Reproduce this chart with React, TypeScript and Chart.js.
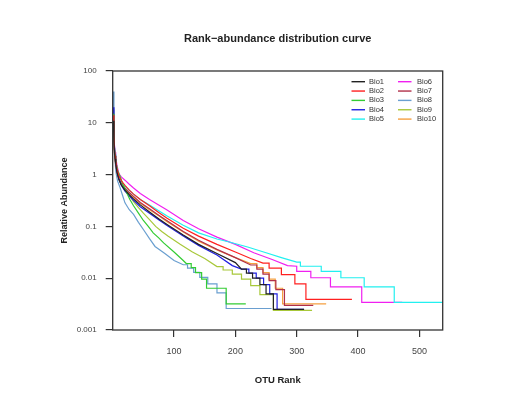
import React, { useEffect, useRef } from "react";
import { Chart, registerables } from "chart.js";

Chart.register(...registerables);

const chartTitle = "Rank\u2212abundance distribution curve";
const xAxisTitle = "OTU Rank";
const yAxisTitle = "Relative Abundance";

const seriesNames = ["Bio1", "Bio2", "Bio3", "Bio4", "Bio5", "Bio6", "Bio7", "Bio8", "Bio9", "Bio10"];
const seriesColors = ["#222222", "#FF2020", "#33CC33", "#2020E0", "#22F0F0", "#F020F0", "#B0304A", "#6A9FD0", "#A8C83A", "#F5A040"];

const xTickValues = [100, 200, 300, 400, 500];
const yTickValues = [0.001, 0.01, 0.1, 1, 10, 100];
const yTickLabels = ["0.001", "0.01", "0.1", "1", "10", "100"];

// Bio1
const bio1Rank = [1, 2, 3, 4, 5, 7, 10, 14, 20, 27, 34, 45, 60, 75, 88, 115, 140, 170, 200, 210, 218, 218, 228, 228, 240, 240, 250, 250, 262, 262, 312];
const bio1Abundance = [11, 4.5, 2.6, 2.0, 1.6, 1.1, 0.8, 0.63, 0.5, 0.41, 0.34, 0.26, 0.19, 0.14, 0.11, 0.068, 0.045, 0.03, 0.02, 0.015, 0.015, 0.0125, 0.0125, 0.01, 0.01, 0.0075, 0.0075, 0.005, 0.005, 0.0025, 0.0025];
// Bio2
const bio2Rank = [1, 2, 3, 4, 5, 7, 10, 14, 20, 27, 34, 45, 60, 75, 88, 115, 140, 170, 200, 225, 245, 255, 255, 275, 275, 297, 297, 315, 315, 390];
const bio2Abundance = [14, 5.5, 3, 2.3, 1.9, 1.3, 0.95, 0.76, 0.62, 0.5, 0.42, 0.33, 0.25, 0.185, 0.145, 0.092, 0.065, 0.045, 0.032, 0.024, 0.0195, 0.0195, 0.0156, 0.0156, 0.0117, 0.0117, 0.0078, 0.0078, 0.0039, 0.0039];
// Bio3
const bio3Rank = [1, 2, 3, 4, 5, 8, 12, 17, 23, 28, 34, 42, 50, 58, 66, 75, 83, 100, 115, 120, 128, 128, 135, 135, 145, 145, 153, 153, 185, 185, 217];
const bio3Abundance = [15, 5, 3, 2.3, 1.8, 1.2, 0.93, 0.62, 0.44, 0.33, 0.25, 0.18, 0.13, 0.1, 0.075, 0.06, 0.048, 0.032, 0.022, 0.0192, 0.0192, 0.016, 0.016, 0.0128, 0.0128, 0.0096, 0.0096, 0.0064, 0.0064, 0.0032, 0.0032];
// Bio4
const bio4Rank = [1, 2, 3, 4, 5, 7, 10, 14, 20, 27, 34, 45, 60, 75, 88, 115, 140, 170, 195, 210, 222, 222, 234, 234, 246, 246, 256, 256, 268, 268, 312];
const bio4Abundance = [20, 6, 3, 2.3, 1.8, 1.2, 0.85, 0.62, 0.48, 0.39, 0.32, 0.24, 0.18, 0.135, 0.105, 0.065, 0.043, 0.028, 0.0175, 0.015, 0.015, 0.0125, 0.0125, 0.01, 0.01, 0.0075, 0.0075, 0.005, 0.005, 0.0025, 0.0025];
// Bio5
const bio5Rank = [1, 2, 3, 4, 5, 7, 10, 14, 20, 27, 34, 45, 60, 75, 88, 115, 140, 170, 190, 220, 250, 275, 300, 306, 306, 340, 340, 372, 372, 410, 410, 459, 459, 538];
const bio5Abundance = [12, 5, 3.2, 2.5, 2.0, 1.35, 0.95, 0.75, 0.6, 0.5, 0.42, 0.33, 0.26, 0.2, 0.16, 0.105, 0.075, 0.057, 0.05, 0.04, 0.031, 0.025, 0.0204, 0.0204, 0.017, 0.017, 0.0136, 0.0136, 0.0102, 0.0102, 0.0068, 0.0068, 0.0034, 0.0034];
// Bio6
const bio6Rank = [1, 2, 3, 4, 5, 7, 10, 14, 20, 27, 34, 45, 60, 75, 88, 115, 140, 170, 200, 230, 260, 285, 300, 300, 323, 323, 355, 355, 406, 406, 472];
const bio6Abundance = [15, 6, 3.5, 2.7, 2.2, 1.5, 1.05, 0.9, 0.78, 0.65, 0.55, 0.43, 0.33, 0.26, 0.21, 0.13, 0.09, 0.062, 0.045, 0.031, 0.023, 0.0175, 0.017, 0.0136, 0.0136, 0.0102, 0.0102, 0.0068, 0.0068, 0.0034, 0.0034];
// Bio7
const bio7Rank = [1, 2, 3, 4, 5, 7, 10, 14, 20, 27, 34, 45, 60, 75, 88, 115, 140, 170, 200, 225, 235, 235, 245, 245, 255, 255, 266, 266, 280, 280, 327];
const bio7Abundance = [10, 4, 2.4, 1.85, 1.5, 1.1, 0.85, 0.68, 0.55, 0.45, 0.38, 0.29, 0.22, 0.165, 0.13, 0.08, 0.054, 0.036, 0.025, 0.018, 0.018, 0.015, 0.015, 0.012, 0.012, 0.009, 0.009, 0.006, 0.006, 0.003, 0.003];
// Bio8
const bio8Rank = [1, 2, 3, 4, 5, 6, 8, 12, 16, 20, 27, 34, 42, 50, 60, 69, 77, 85, 100, 115, 122, 122, 132, 132, 142, 142, 155, 155, 170, 170, 185, 185, 259];
const bio8Abundance = [40, 8, 3, 1.8, 1.2, 1.0, 0.75, 0.56, 0.4, 0.285, 0.21, 0.17, 0.12, 0.087, 0.058, 0.041, 0.035, 0.03, 0.022, 0.0182, 0.0182, 0.0156, 0.0156, 0.013, 0.013, 0.0104, 0.0104, 0.0078, 0.0078, 0.0052, 0.0052, 0.0026, 0.0026];
// Bio9
const bio9Rank = [1, 2, 3, 4, 5, 8, 12, 16, 20, 27, 34, 42, 50, 60, 70, 80, 90, 110, 130, 150, 170, 180, 180, 195, 195, 210, 210, 225, 225, 240, 240, 262, 262, 325];
const bio9Abundance = [18, 6, 3, 2.1, 1.6, 1.15, 0.9, 0.7, 0.55, 0.4, 0.3, 0.23, 0.18, 0.135, 0.1, 0.08, 0.065, 0.045, 0.032, 0.024, 0.0168, 0.0168, 0.0144, 0.0144, 0.012, 0.012, 0.0096, 0.0096, 0.0072, 0.0072, 0.0048, 0.0048, 0.0024, 0.0024];
// Bio10
const bio10Rank = [1, 2, 3, 4, 5, 7, 10, 14, 20, 27, 34, 45, 60, 75, 88, 115, 140, 170, 200, 225, 235, 235, 245, 245, 255, 255, 265, 265, 277, 277, 348];
const bio10Abundance = [12, 5, 2.5, 1.9, 1.5, 1.05, 0.8, 0.64, 0.52, 0.43, 0.36, 0.28, 0.21, 0.16, 0.125, 0.078, 0.052, 0.035, 0.025, 0.0192, 0.0192, 0.016, 0.016, 0.0128, 0.0128, 0.0096, 0.0096, 0.0064, 0.0064, 0.0032, 0.0032];

const seriesRanks = [bio1Rank, bio2Rank, bio3Rank, bio4Rank, bio5Rank, bio6Rank, bio7Rank, bio8Rank, bio9Rank, bio10Rank];
const seriesValues = [bio1Abundance, bio2Abundance, bio3Abundance, bio4Abundance, bio5Abundance, bio6Abundance, bio7Abundance, bio8Abundance, bio9Abundance, bio10Abundance];

const FONT = "'Liberation Sans', Arial, Helvetica, sans-serif";

const boxPlugin = {
  id: "plotBox",
  afterDraw(chart: any) {
    const { ctx, chartArea } = chart;
    ctx.save();
    ctx.strokeStyle = "#333333";
    ctx.lineWidth = 1.3;
    ctx.strokeRect(chartArea.left, chartArea.top, chartArea.right - chartArea.left, chartArea.bottom - chartArea.top);
    ctx.restore();
  },
};

const insetLegendPlugin = {
  id: "insetLegend",
  afterDraw(chart: any) {
    const { ctx } = chart;
    ctx.save();
    ctx.font = `7.5px ${FONT}`;
    ctx.textBaseline = "middle";
    ctx.textAlign = "left";
    chart.data.datasets.forEach((ds: any, i: number) => {
      const col = Math.floor(i / 5);
      const row = i % 5;
      const lineX0 = col === 0 ? 351.5 : 398;
      const textX = col === 0 ? 369 : 417;
      const y = 81.7 + row * 9.35;
      ctx.strokeStyle = ds.borderColor;
      ctx.lineWidth = 1.4;
      ctx.beginPath();
      ctx.moveTo(lineX0, y);
      ctx.lineTo(lineX0 + 13.5, y);
      ctx.stroke();
      ctx.fillStyle = "#333333";
      ctx.fillText(ds.label, textX, y);
    });
    ctx.restore();
  },
};

export default function App() {
  const canvasRef = useRef<HTMLCanvasElement | null>(null);

  useEffect(() => {
    if (!canvasRef.current) return;
    const datasets = seriesNames.map((name, i) => ({
      label: name,
      data: seriesRanks[i].map((r, j) => ({ x: r, y: seriesValues[i][j] })),
      borderColor: seriesColors[i],
      backgroundColor: seriesColors[i],
      borderWidth: 1.2,
      pointRadius: 0,
      showLine: true,
      fill: false,
      tension: 0,
    }));

    const chart = new Chart(canvasRef.current, {
      type: "scatter",
      data: { datasets },
      plugins: [boxPlugin, insetLegendPlugin],
      options: {
        animation: false,
        responsive: false,
        maintainAspectRatio: false,
        layout: { padding: { left: 0, right: 79.3, top: 0, bottom: 0 } },
        plugins: {
          legend: { display: false },
          tooltip: { enabled: false },
          title: {
            display: true,
            text: chartTitle,
            fullSize: false,
            align: "center",
            color: "#222222",
            font: { family: FONT, size: 11, weight: "bold", lineHeight: 1.2 },
            padding: { top: 32.4, bottom: 25.4 },
          },
        },
        scales: {
          x: {
            type: "linear",
            min: 0,
            max: 538,
            afterBuildTicks: (scale: any) => {
              scale.ticks = xTickValues.map((v) => ({ value: v }));
            },
            afterFit: (scale: any) => {
              scale.height = 66;
            },
            border: { display: false },
            grid: { display: true, drawOnChartArea: false, drawTicks: true, tickLength: 7, color: "#333333", lineWidth: 1.2 },
            ticks: {
              autoSkip: false,
              maxRotation: 0,
              padding: 9.3,
              color: "#444444",
              font: { family: FONT, size: 9 },
              callback: (v: any) => String(v),
            },
            title: {
              display: true,
              text: xAxisTitle,
              color: "#222222",
              font: { family: FONT, size: 9.5, weight: "bold", lineHeight: 1.2 },
              padding: { top: 0, bottom: 10.3 },
            },
          },
          y: {
            type: "logarithmic",
            min: 0.001,
            max: 100,
            afterBuildTicks: (scale: any) => {
              scale.ticks = yTickValues.map((v) => ({ value: v }));
            },
            afterFit: (scale: any) => {
              scale.width = 112.7;
            },
            border: { display: false },
            grid: { display: true, drawOnChartArea: false, drawTicks: true, tickLength: 7, color: "#333333", lineWidth: 1.2 },
            ticks: {
              autoSkip: false,
              padding: 9,
              color: "#444444",
              font: { family: FONT, size: 8 },
              callback: (v: any) => {
                const idx = yTickValues.indexOf(Number(v));
                return idx >= 0 ? yTickLabels[idx] : "";
              },
            },
            title: {
              display: true,
              text: yAxisTitle,
              color: "#222222",
              font: { family: FONT, size: 9, weight: "bold", lineHeight: 1.2 },
              padding: { top: 59.6, bottom: 0 },
            },
          },
        },
      } as any,
    });
    return () => chart.destroy();
  }, []);

  return (
    <div style={{ position: "absolute", left: 0, top: 0, width: 522, height: 396, background: "#ffffff" }}>
      <canvas ref={canvasRef} width={522} height={396} style={{ display: "block" }} />
    </div>
  );
}
